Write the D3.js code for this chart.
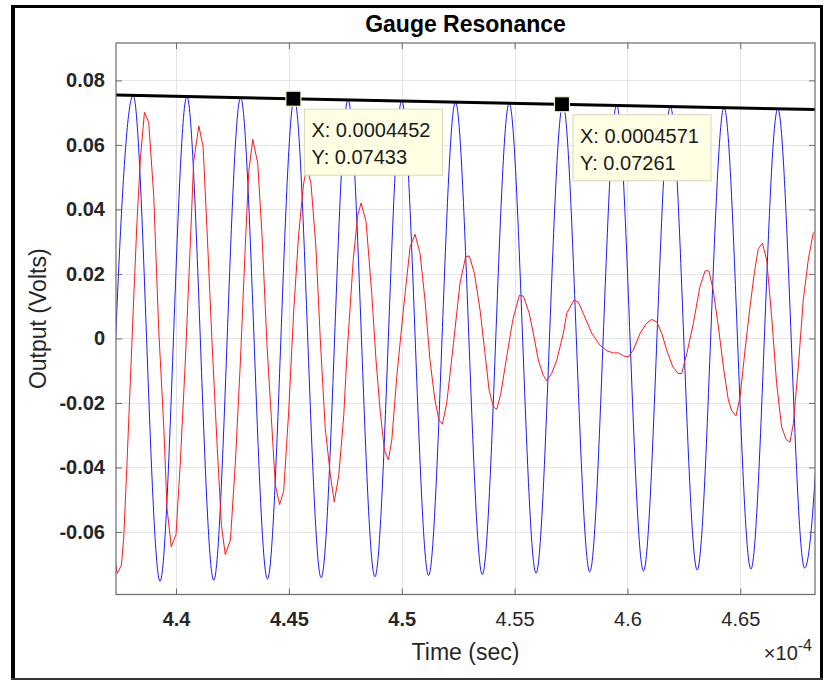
<!DOCTYPE html>
<html><head><meta charset="utf-8">
<script src="https://cdn.jsdelivr.net/npm/d3@7"></script>
<style>
body{margin:0;background:#fff}
svg{display:block}
text{font-family:"Liberation Sans",Arial,Helvetica,sans-serif}
</style>
</head><body>
<svg id="chart" width="825" height="681"></svg>
<script>
// ---------------- data (time in units of 1e-4 s, output in volts) ----------------
const titleText = "Gauge Resonance";
const xLabelText = "Time (sec)";
const yLabelText = "Output (Volts)";
const xDomain = [4.3734, 4.6831];
const yDomain = [-0.0794, 0.0916];
const xTicks = [4.4, 4.45, 4.5, 4.55, 4.6, 4.65];
const xTickLabels = ["4.4", "4.45", "4.5", "4.55", "4.6", "4.65"];
const yTicks = [-0.06, -0.04, -0.02, 0, 0.02, 0.04, 0.06, 0.08];
const yTickLabels = ["-0.06", "-0.04", "-0.02", "0", "0.02", "0.04", "0.06", "0.08"];

// blue trace: successive troughs / peaks
const blueT = [4.3691, 4.3810, 4.3929, 4.4048, 4.4167, 4.4286, 4.4405, 4.4524, 4.4643, 4.4762,
               4.4881, 4.5000, 4.5119, 4.5238, 4.5357, 4.5476, 4.5595, 4.5714, 4.5833, 4.5952,
               4.6071, 4.6190, 4.6309, 4.6428, 4.6547, 4.6666, 4.6785, 4.6904];
const blueV = [-0.0756, 0.0754, -0.0753, 0.0750, -0.0750, 0.0747, -0.0746, 0.0743, -0.0742, 0.0740,
               -0.0739, 0.0737, -0.0735, 0.0733, -0.0732, 0.0730, -0.0728, 0.0726, -0.0724, 0.0723,
               -0.0721, 0.0719, -0.0718, 0.0716, -0.0715, 0.0712, -0.0712, 0.0709];

// red trace: samples
const redT = [4.3734, 4.3739, 4.3758, 4.3768, 4.3783, 4.3798, 4.3813, 4.3827, 4.3842, 4.3860,
              4.3879, 4.3901, 4.3923, 4.3946, 4.3960, 4.3979, 4.4000, 4.4019, 4.4041, 4.4063,
              4.4078, 4.4101, 4.4120, 4.4137, 4.4160, 4.4182, 4.4201, 4.4218, 4.4241, 4.4263,
              4.4285, 4.4307, 4.4322, 4.4340, 4.4362, 4.4381, 4.4403, 4.4425, 4.4440, 4.4459,
              4.4477, 4.4499, 4.4521, 4.4543, 4.4565, 4.4580, 4.4598, 4.4620, 4.4639, 4.4661,
              4.4684, 4.4701, 4.4721, 4.4743, 4.4756, 4.4785, 4.4805, 4.4820, 4.4842, 4.4867,
              4.4886, 4.4904, 4.4923, 4.4941, 4.4956, 4.4978, 4.5007, 4.5037, 4.5059, 4.5081,
              4.5103, 4.5125, 4.5147, 4.5165, 4.5180, 4.5199, 4.5229, 4.5258, 4.5283, 4.5299,
              4.5322, 4.5347, 4.5369, 4.5387, 4.5406, 4.5421, 4.5439, 4.5465, 4.5492, 4.5521,
              4.5539, 4.5565, 4.5583, 4.5605, 4.5627, 4.5642, 4.5664, 4.5687, 4.5716, 4.5731,
              4.5763, 4.5782, 4.5804, 4.5842, 4.5878, 4.5908, 4.5937, 4.5960, 4.5982, 4.6004,
              4.6026, 4.6056, 4.6085, 4.6108, 4.6130, 4.6152, 4.6174, 4.6201, 4.6225, 4.6240,
              4.6263, 4.6292, 4.6321, 4.6344, 4.6361, 4.6380, 4.6403, 4.6425, 4.6447, 4.6462,
              4.6481, 4.6499, 4.6521, 4.6543, 4.6562, 4.6580, 4.6598, 4.6617, 4.6639, 4.6661,
              4.6683, 4.6703, 4.6720, 4.6735, 4.6757, 4.6779, 4.6801, 4.6823, 4.6831];
const redV = [-0.0703, -0.0729, -0.0703, -0.0620, -0.0383, -0.0124, 0.0134, 0.0362, 0.0558, 0.0701,
              0.0670, 0.0444, 0.0031, -0.0279, -0.0527, -0.0646, -0.0608, -0.0383, -0.0073, 0.0289,
              0.0548, 0.0659, 0.0594, 0.0341, -0.0021, -0.0331, -0.0579, -0.0670, -0.0625, -0.0383,
              -0.0073, 0.0289, 0.0517, 0.0617, 0.0543, 0.0320, -0.0021, -0.0279, -0.0455, -0.0515,
              -0.0473, -0.0228, 0.0082, 0.0320, 0.0480, 0.0530, 0.0480, 0.0280, 0.0000, -0.0279,
              -0.0424, -0.0507, -0.0424, -0.0240, -0.0067, 0.0243, 0.0382, 0.0420, 0.0362, 0.0140,
              -0.0067, -0.0222, -0.0346, -0.0377, -0.0315, -0.0119, 0.0088, 0.0284, 0.0323, 0.0264,
              0.0119, -0.0067, -0.0191, -0.0253, -0.0266, -0.0202, -0.0016, 0.0171, 0.0253, 0.0256,
              0.0202, 0.0088, -0.0047, -0.0160, -0.0212, -0.0220, -0.0171, -0.0057, 0.0057, 0.0134,
              0.0131, 0.0078, 0.0016, -0.0067, -0.0114, -0.0131, -0.0109, -0.0067, 0.0016, 0.0078,
              0.0119, 0.0113, 0.0078, 0.0016, -0.0021, -0.0038, -0.0045, -0.0045, -0.0054, -0.0057,
              -0.0036, 0.0016, 0.0047, 0.0059, 0.0051, 0.0016, -0.0036, -0.0088, -0.0109, -0.0109,
              -0.0047, 0.0047, 0.0160, 0.0210, 0.0209, 0.0150, 0.0036, -0.0088, -0.0191, -0.0224,
              -0.0240, -0.0181, -0.0036, 0.0098, 0.0202, 0.0279, 0.0295, 0.0243, 0.0067, -0.0140,
              -0.0274, -0.0313, -0.0322, -0.0264, -0.0088, 0.0119, 0.0243, 0.0326, 0.0331];

// black reference line through the peak datatips
const envT = [4.3734, 4.6831];
const envV = [0.07547, 0.07098];

// datatips (seconds, volts)
const tipX = [0.0004452, 0.0004571];
const tipY = [0.07433, 0.07261];
const timeUnit = 1e-4;

// ---------------- layout ----------------
const L = 116, R = 815, T = 43, B = 594.5;
const svg = d3.select("#chart");
const x = d3.scaleLinear().domain(xDomain).range([L, R]);
const y = d3.scaleLinear().domain(yDomain).range([B, T]);

svg.append("rect").attr("width", 825).attr("height", 681).attr("fill", "#fff");

// grid
const grid = svg.append("g").attr("stroke", "#e4e4e4").attr("stroke-width", 1);
grid.selectAll(".gx").data(xTicks).join("line")
  .attr("x1", d => Math.round(x(d)) + 0.5).attr("x2", d => Math.round(x(d)) + 0.5)
  .attr("y1", T).attr("y2", B);
grid.selectAll(".gy").data(yTicks).join("line")
  .attr("y1", d => Math.round(y(d)) + 0.5).attr("y2", d => Math.round(y(d)) + 0.5)
  .attr("x1", L).attr("x2", R);

// clip
svg.append("clipPath").attr("id", "clip").append("rect")
  .attr("x", L).attr("y", T).attr("width", R - L).attr("height", B - T);
const plot = svg.append("g").attr("clip-path", "url(#clip)");

const blueData = blueT.map((t, i) => [t, blueV[i]]);
const redData = redT.map((t, i) => [t, redV[i]]);
const envData = envT.map((t, i) => [t, envV[i]]);

plot.append("path").datum(blueData)
  .attr("d", d3.line().x(d => x(d[0])).y(d => y(d[1])).curve(d3.curveMonotoneX))
  .attr("fill", "none").attr("stroke", "#1a1aff").attr("stroke-width", 1);
plot.append("path").datum(redData)
  .attr("d", d3.line().x(d => x(d[0])).y(d => y(d[1])))
  .attr("fill", "none").attr("stroke", "#ff1a1a").attr("stroke-width", 1)
  .attr("stroke-linejoin", "round");
plot.append("path").datum(envData)
  .attr("d", d3.line().x(d => x(d[0])).y(d => y(d[1])))
  .attr("fill", "none").attr("stroke", "#000").attr("stroke-width", 3);

// axes
function styleAxis(g) {
  g.select(".domain").remove();
  g.selectAll(".tick line").attr("stroke", "#6b6b6b").attr("stroke-width", 1);
  g.selectAll(".tick text").attr("fill", "#262626").attr("font-size", 20)
    .attr("font-family", "'Liberation Sans',Arial,Helvetica,sans-serif");
}
svg.append("g").attr("transform", `translate(0,${B})`)
  .call(d3.axisBottom(x).tickValues(xTicks).tickFormat((d, i) => xTickLabels[i])
    .tickSizeInner(-6).tickSizeOuter(0).tickPadding(17))
  .call(styleAxis)
  .call(g => g.selectAll(".tick text").attr("font-weight", d => d <= 4.5 ? "bold" : "normal"));
svg.append("g").attr("transform", `translate(0,${T})`)
  .call(d3.axisTop(x).tickValues(xTicks).tickFormat("").tickSizeInner(-6).tickSizeOuter(0))
  .call(styleAxis);
svg.append("g").attr("transform", `translate(${L},0)`)
  .call(d3.axisLeft(y).tickValues(yTicks).tickFormat((d, i) => yTickLabels[i])
    .tickSizeInner(-6).tickSizeOuter(0).tickPadding(11))
  .call(styleAxis)
  .call(g => g.selectAll(".tick text").attr("font-weight", "bold"));
svg.append("g").attr("transform", `translate(${R},0)`)
  .call(d3.axisRight(y).tickValues(yTicks).tickFormat("").tickSizeInner(-6).tickSizeOuter(0))
  .call(styleAxis);

// axes box
svg.append("rect").attr("x", L).attr("y", T).attr("width", R - L).attr("height", B - T)
  .attr("fill", "none").attr("stroke", "#6b6b6b").attr("stroke-width", 1.2);

// datatips
const tips = tipX.map((tx, i) => ({ t: tx / timeUnit, v: tipY[i], xs: tx, ys: tipY[i] }));
const tipG = svg.append("g");
tipG.selectAll("rect.m").data(tips).join("rect").attr("class", "m")
  .attr("x", d => x(d.t) - 7.5).attr("y", d => y(d.v) - 7.5)
  .attr("width", 15).attr("height", 15)
  .attr("fill", "#000").attr("stroke", "#f4f2c8").attr("stroke-width", 1.2);
const boxes = tipG.selectAll("g.b").data(tips).join("g").attr("class", "b")
  .attr("transform", d => `translate(${x(d.t) + 11},${y(d.v) + 10.5})`);
boxes.append("rect").attr("width", 138).attr("height", 66)
  .attr("fill", "#ffffe3").attr("stroke", "#d8d6b4").attr("stroke-width", 1);
boxes.append("text").attr("x", 7).attr("y", 28).attr("font-size", 20).attr("fill", "#1a1a1a")
  .text(d => "X: " + d.xs.toFixed(7));
boxes.append("text").attr("x", 7).attr("y", 55).attr("font-size", 20).attr("fill", "#1a1a1a")
  .text(d => "Y: " + d.ys.toFixed(5));

// title and labels
svg.append("text").attr("x", (L + R) / 2).attr("y", 31.5).attr("text-anchor", "middle")
  .attr("font-size", 23).attr("font-weight", "bold").attr("fill", "#000").text(titleText);
svg.append("text").attr("x", (L + R) / 2).attr("y", 660).attr("text-anchor", "middle")
  .attr("font-size", 23).attr("fill", "#262626").text(xLabelText);
svg.append("text").attr("transform", `translate(46,${(T + B) / 2}) rotate(-90)`)
  .attr("text-anchor", "middle").attr("font-size", 23).attr("fill", "#262626").text(yLabelText);
const exp = svg.append("text").attr("x", 812).attr("y", 660).attr("text-anchor", "end")
  .attr("font-size", 20).attr("fill", "#262626");
exp.append("tspan").text("\u00d710");
exp.append("tspan").attr("dy", -9).attr("font-size", 16).text("-4");

// figure frame
const frame = svg.append("g").attr("stroke", "#000");
frame.append("line").attr("x1", 13).attr("x2", 13).attr("y1", 5).attr("y2", 680).attr("stroke-width", 4);
frame.append("line").attr("x1", 11).attr("x2", 823).attr("y1", 6.5).attr("y2", 6.5).attr("stroke-width", 3);
frame.append("line").attr("x1", 821.5).attr("x2", 821.5).attr("y1", 5).attr("y2", 680).attr("stroke-width", 3);
frame.append("line").attr("x1", 11).attr("x2", 823).attr("y1", 679).attr("y2", 679)
  .attr("stroke-width", 2).attr("stroke", "#333");
</script>
</body></html>
